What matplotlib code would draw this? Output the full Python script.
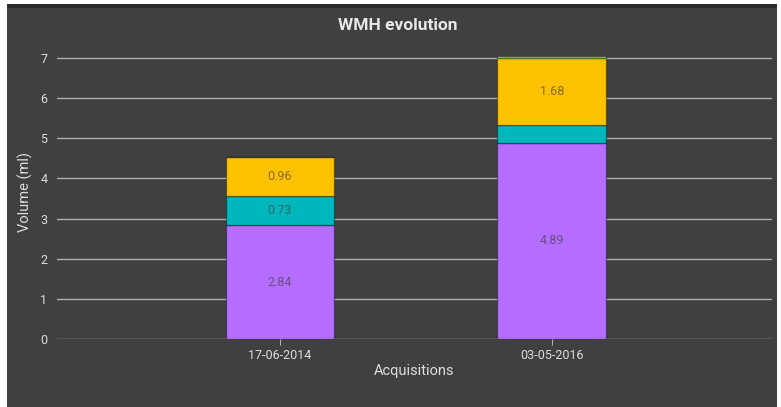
import matplotlib.pyplot as plt
from matplotlib.patches import Rectangle
import numpy as np

plt.rcParams['font.family'] = ['Roboto', 'DejaVu Sans']

# Volumenes por adquisicion (ml)
fechas = ['17-06-2014', '03-05-2016']
purpura = [2.84, 4.89]
turquesa = [0.73, 0.43]
amarillo = [0.96, 1.68]
verde = [0.0, 0.05]

series = [
    (purpura, '#b56dff'),
    (turquesa, '#00b7bb'),
    (amarillo, '#ffc200'),
    (verde, '#8ccc6a'),
]

W, H = 781, 407
fig = plt.figure(figsize=(W / 100, H / 100), dpi=100)
fig.patch.set_facecolor('white')

# Fondo del panel
fig.patches.append(Rectangle((7 / W, 0), 770 / W, 403 / H, transform=fig.transFigure,
                             facecolor='#404040', edgecolor='none', zorder=-2))
fig.patches.append(Rectangle((7 / W, 399 / H), 770 / W, 4 / H, transform=fig.transFigure,
                             facecolor='#2a2a2a', edgecolor='none', zorder=-1))

y0, y1 = 339, 46
ax = fig.add_axes([57 / W, (H - y0) / H, (772 - 57) / W, (y0 - y1) / H])
ax.set_facecolor('none')

x = np.arange(len(fechas))
base = np.zeros(len(fechas))
for vals, color in series:
    vals = np.array(vals)
    ax.bar(x, vals, 0.40, bottom=base, color=color, edgecolor=(0, 0, 0, 0.35),
           linewidth=1, zorder=3)
    for xi, b, v in zip(x, base, vals):
        if v >= 0.6:
            ax.text(xi, b + v / 2, f'{v:.2f}', ha='center', va='center',
                    fontsize=9, color=(0.25, 0.25, 0.25, 0.65), zorder=4)
    base = base + vals

ax.set_xlim(-0.82, 1.81)
ax.set_ylim(0, 7.3)
ax.set_yticks(range(8))
ax.set_xticks(x)
ax.set_xticklabels(fechas)
ax.grid(axis='y', color='#b0b0b0', linewidth=1, zorder=1)
for s in ax.spines.values():
    s.set_visible(False)
ax.tick_params(axis='y', length=0, pad=7, labelsize=9, labelcolor='#dddddd')
ax.tick_params(axis='x', length=4, color='#b0b0b0', pad=3, labelsize=9, labelcolor='#dddddd')

ax.set_xlabel('Acquisitions', fontsize=10.5, color='#dddddd', labelpad=2)
ax.set_ylabel('Volume (ml)', fontsize=10.5, color='#dddddd', labelpad=5)
fig.text(398 / W, (H - 25) / H, 'WMH evolution', ha='center', va='center',
         fontsize=12.5, fontweight='bold', color='#e8e8e8')

plt.savefig('out.png', dpi=100)
